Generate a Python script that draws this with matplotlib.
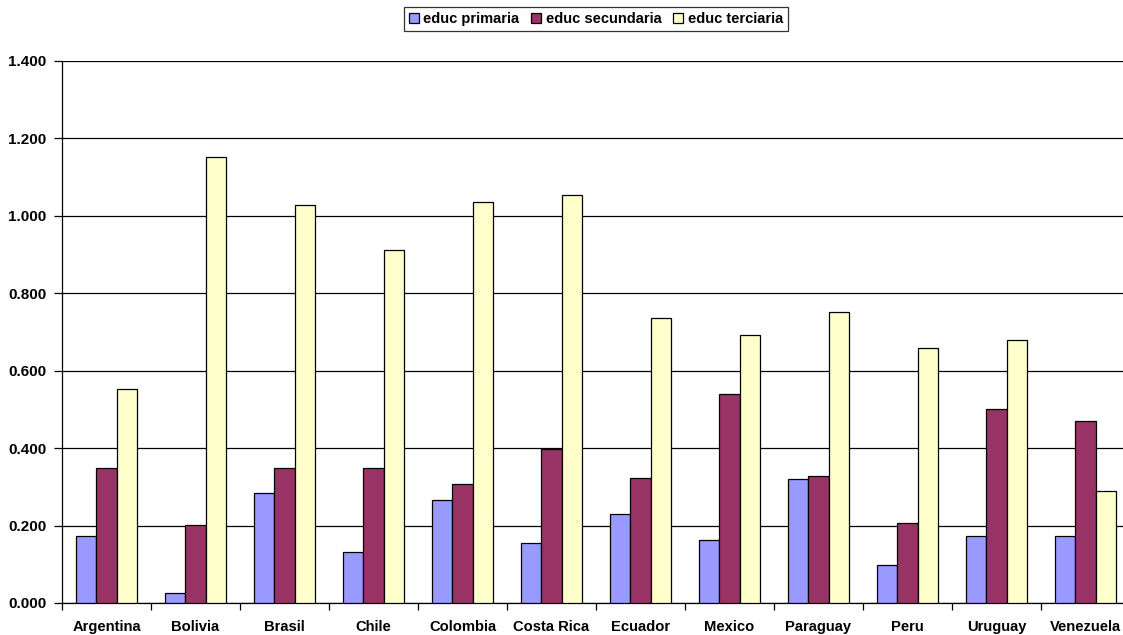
import numpy as np
import matplotlib.pyplot as plt
from matplotlib.ticker import FuncFormatter, FixedLocator

paises = ["Argentina", "Bolivia", "Brasil", "Chile", "Colombia", "Costa Rica",
          "Ecuador", "Mexico", "Paraguay", "Peru", "Uruguay", "Venezuela"]
primaria = [0.174, 0.025, 0.284, 0.132, 0.266, 0.155,
            0.230, 0.163, 0.320, 0.098, 0.174, 0.174]
secundaria = [0.350, 0.201, 0.350, 0.349, 0.307, 0.398,
              0.323, 0.540, 0.328, 0.207, 0.500, 0.469]
terciaria = [0.552, 1.152, 1.028, 0.912, 1.036, 1.054,
             0.736, 0.692, 0.752, 0.659, 0.679, 0.289]

plt.rcParams['font.family'] = ['Liberation Sans', 'DejaVu Sans']
plt.rcParams['font.weight'] = 'bold'

fig = plt.figure(figsize=(11.23, 6.35), dpi=100)
ax = fig.add_axes([62 / 1123, 32 / 635, 1068 / 1123, 542 / 635])

x = np.arange(len(paises))
w = 0.225
series = [("educ primaria", primaria, "#9999FF"),
          ("educ secundaria", secundaria, "#993366"),
          ("educ terciaria", terciaria, "#FFFFCC")]
for i, (nombre, vals, color) in enumerate(series):
    ax.bar(x + (i - 1) * w, vals, w, color=color, edgecolor="black",
           linewidth=0.9, label=nombre, zorder=3)

ax.set_xlim(-0.5, len(paises) - 0.5)
ax.set_ylim(0, 1.4)
ax.set_yticks(np.arange(0, 1.41, 0.2))
ax.yaxis.set_major_formatter(FuncFormatter(lambda v, p: f"{v:.3f}"))
ax.yaxis.grid(True, color="black", linewidth=0.9, zorder=0)

# category labels in the middle, tick marks between groups
ax.set_xticks(x)
ax.set_xticklabels(paises)
ax.tick_params(axis="x", length=0, pad=12, labelsize=10.6)
ax.xaxis.set_minor_locator(FixedLocator(np.arange(-0.5, len(paises), 1.0)))
ax.tick_params(axis="x", which="minor", length=5, width=0.9, direction="out")
ax.tick_params(axis="y", length=6, width=0.9, labelsize=11, pad=5)

for s in ("top", "right"):
    ax.spines[s].set_visible(False)
for s in ("left", "bottom"):
    ax.spines[s].set_linewidth(0.9)

leg = fig.legend(loc="upper center", bbox_to_anchor=(596 / 1123, 1 - 7 / 635),
                 ncol=3, fontsize=10.5, frameon=True, fancybox=False,
                 handlelength=0.7, handleheight=0.7, handletextpad=0.3,
                 columnspacing=0.8, borderpad=0.35, borderaxespad=0)
leg.get_frame().set_edgecolor("black")
leg.get_frame().set_linewidth(0.9)

fig.savefig("out.png", dpi=100)
